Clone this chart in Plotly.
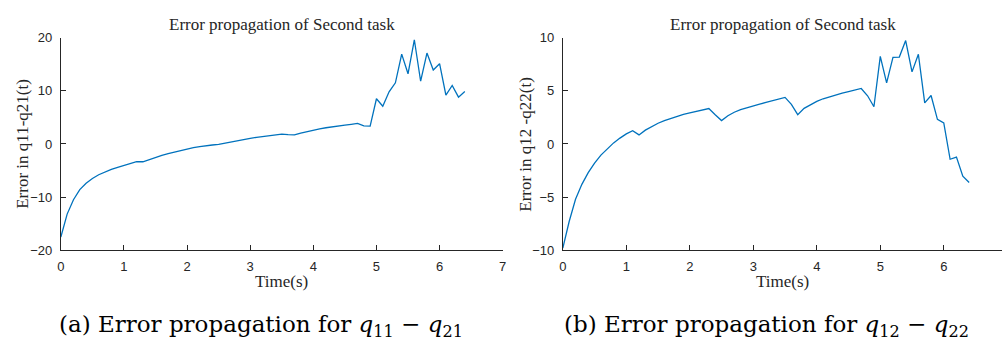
import plotly.graph_objects as go

# Time samples (s)
time_s = [round(0.1 * i, 1) for i in range(65)]

# Error in q11 - q21
err_q11_q21 = [
    -17.5, -13.2, -10.5, -8.6, -7.4, -6.5, -5.8, -5.25, -4.8, -4.4,
    -4.05, -3.7, -3.35, -3.35, -2.9, -2.5, -2.15, -1.8, -1.5, -1.2,
    -0.95, -0.7, -0.5, -0.3, -0.2, -0.1, 0.15, 0.4, 0.65, 0.85,
    1.05, 1.25, 1.4, 1.55, 1.7, 1.85, 1.75, 1.7, 2.05, 2.35,
    2.6, 2.85, 3.05, 3.25, 3.4, 3.55, 3.7, 3.85, 3.4, 3.35,
    8.5, 7.1, 9.8, 11.5, 16.9, 13.2, 19.6, 11.8, 17.1, 13.9,
    15.1, 9.2, 11.0, 8.8, 9.85,
]

# Error in q12 - q22
err_q12_q22 = [
    -9.8, -7.3, -5.2, -3.8, -2.7, -1.8, -1.05, -0.45, 0.1, 0.55,
    0.95, 1.25, 0.85, 1.3, 1.65, 1.95, 2.2, 2.4, 2.6, 2.78,
    2.92, 3.05, 3.18, 3.33, 2.75, 2.2, 2.65, 2.98, 3.22, 3.42,
    3.6, 3.75, 3.9, 4.05, 4.2, 4.38, 3.72, 2.76, 3.35, 3.7,
    4.0, 4.25, 4.45, 4.62, 4.78, 4.93, 5.08, 5.22, 4.53, 3.5,
    8.23, 5.74, 8.14, 8.17, 9.73, 6.78, 8.44, 3.87, 4.56, 2.31,
    1.98, -1.44, -1.23, -3.04, -3.63,
]

left_yticks = [-20, -10, 0, 10, 20]
right_yticks = [-10, -5, 0, 5, 10]
left_xticks = [0, 1, 2, 3, 4, 5, 6, 7]
right_xticks = [0, 1, 2, 3, 4, 5, 6]

LINE = "#0072BD"
AXC = "#262626"
SERIF = "Liberation Serif, Times New Roman, serif"
CAPTION_SERIF = "DejaVu Serif, serif"
SANS = "Liberation Sans, Arial, Helvetica, sans-serif"

fig = go.Figure()
fig.add_trace(go.Scatter(x=time_s, y=err_q11_q21, mode="lines",
                         line=dict(color=LINE, width=1.3),
                         xaxis="x", yaxis="y", showlegend=False))
fig.add_trace(go.Scatter(x=time_s, y=err_q12_q22, mode="lines",
                         line=dict(color=LINE, width=1.3),
                         xaxis="x2", yaxis="y2", showlegend=False))

W, H = 1006, 354
y_dom = [1 - 254 / H, 1 - 32 / H]

axis_common = dict(
    showline=True, linecolor=AXC, linewidth=1,
    ticks="inside", ticklen=5, tickcolor=AXC, tickwidth=1,
    showgrid=False, zeroline=False, mirror=False,
    tickfont=dict(family=SANS, size=13, color=AXC),
)

fig.update_layout(
    width=W, height=H,
    margin=dict(l=0, r=0, t=0, b=0),
    paper_bgcolor="white", plot_bgcolor="white",
    xaxis=dict(domain=[57.3 / W, 502.7 / W], range=[0, 7],
               tickvals=left_xticks, anchor="y", ticklabelstandoff=4,
               **axis_common),
    yaxis=dict(domain=y_dom, range=[-20, 20],
               tickvals=left_yticks, anchor="x", ticklabelstandoff=5,
               **axis_common),
    xaxis2=dict(domain=[563.3 / W, 1.0], range=[0, (W - 563.3) / 64.0],
                tickvals=right_xticks, anchor="y2", ticklabelstandoff=4,
                **axis_common),
    yaxis2=dict(domain=y_dom, range=[-10, 10],
                tickvals=right_yticks, anchor="x2", ticklabelstandoff=5,
                **axis_common),
)

def text(x, y, s, size, family=SERIF, angle=0, color=AXC):
    fig.add_annotation(x=x / W, y=1 - y / H, xref="paper", yref="paper",
                       text=s, showarrow=False, textangle=angle,
                       font=dict(family=family, size=size, color=color),
                       xanchor="center", yanchor="middle")

# Panel titles
text(280.5, 18, "Error propagation of Second task", 17)
text(785, 18, "Error propagation of Second task", 17)

# Axis titles
text(280, 287, "Time(s)", 17)
text(785, 287, "Time(s)", 17)
text(19, 143, "Error in q11-q21(t)", 17, angle=-90)
text(526, 143, "Error in q12 -q22(t)", 17, angle=-90)

# Sub-figure captions
text(259, 333, "(a) Error propagation for <i>q</i><sub>11</sub> − <i>q</i><sub>21</sub>",
     23, family=CAPTION_SERIF, color="black")
text(769, 333, "(b) Error propagation for <i>q</i><sub>12</sub> − <i>q</i><sub>22</sub>",
     23, family=CAPTION_SERIF, color="black")

fig.write_html("out.html")
